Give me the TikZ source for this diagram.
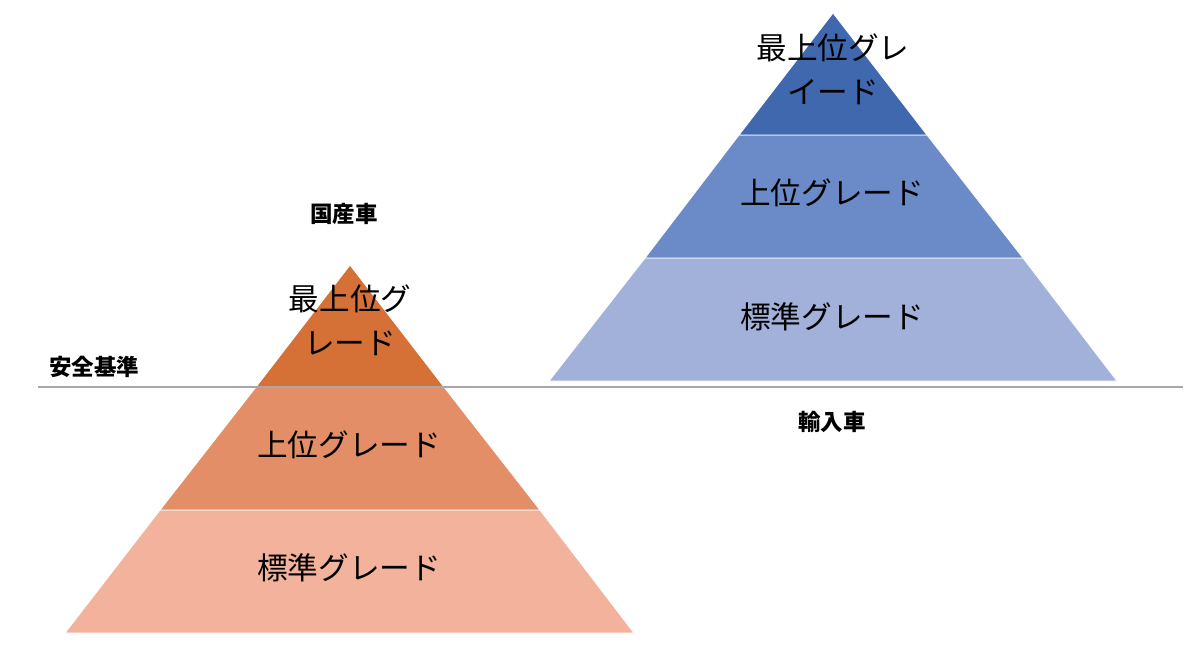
\documentclass[tikz,border=0pt]{standalone}
\usepackage{fontspec}
\setmainfont{Noto Sans CJK JP}
\definecolor{orgA}{HTML}{D57136}
\definecolor{orgB}{HTML}{E38E66}
\definecolor{orgC}{HTML}{F3B29B}
\definecolor{bluA}{HTML}{3F68AF}
\definecolor{bluB}{HTML}{6A8AC8}
\definecolor{bluC}{HTML}{A1B1DA}
\definecolor{rule}{HTML}{A8A8A8}

\begin{document}
\begin{tikzpicture}[x=.025cm,y=-.025cm,every node/.style={text=black},
  tier/.style={font=\fontsize{21.8}{31}\selectfont,align=center},
  tag/.style={font=\fontsize{16}{18}\selectfont\bfseries}]
\useasboundingbox (0,0) rectangle (1200,657);
% left pyramid
\fill[orgC,draw=white,line width=.6pt] (160,510)--(540,510)--(634,633)--(65,633)--cycle;
\fill[orgB,draw=white,line width=.6pt] (256,387)--(444,387)--(540,510)--(160,510)--cycle;
\fill[orgA,draw=white,line width=.6pt] (350,265)--(444,387)--(256,387)--cycle;
\node[tier] (lTop) at (350,320){最上位グ\\レード};
\node[tier] (lMid) at (349,445){上位グレード};
\node[tier] (lBot) at (349,568){標準グレード};
% right pyramid
\fill[bluC,draw=white,line width=.6pt] (645,258)--(1023,258)--(1117,381)--(549,381)--cycle;
\fill[bluB,draw=white,line width=.6pt] (739,135)--(927,135)--(1023,258)--(645,258)--cycle;
\fill[bluA,draw=white,line width=.6pt] (833,13)--(927,135)--(739,135)--cycle;
\node[tier] (rTop) at (833,69){最上位グレ\\イード};
\node[tier] (rMid) at (832,193){上位グレード};
\node[tier] (rBot) at (832,317){標準グレード};
% safety line
\coordinate (lineL) at (38,387);
\coordinate (lineR) at (1183,387);
\draw[rule,line width=1.4pt] (lineL)--(lineR);
\node[tag] (kokusan) at (344,214){国産車};
\node[tag] (anzen) at (94,367){安全基準};
\node[tag] (yunyu) at (832,422){輸入車};
\end{tikzpicture}
\end{document}
